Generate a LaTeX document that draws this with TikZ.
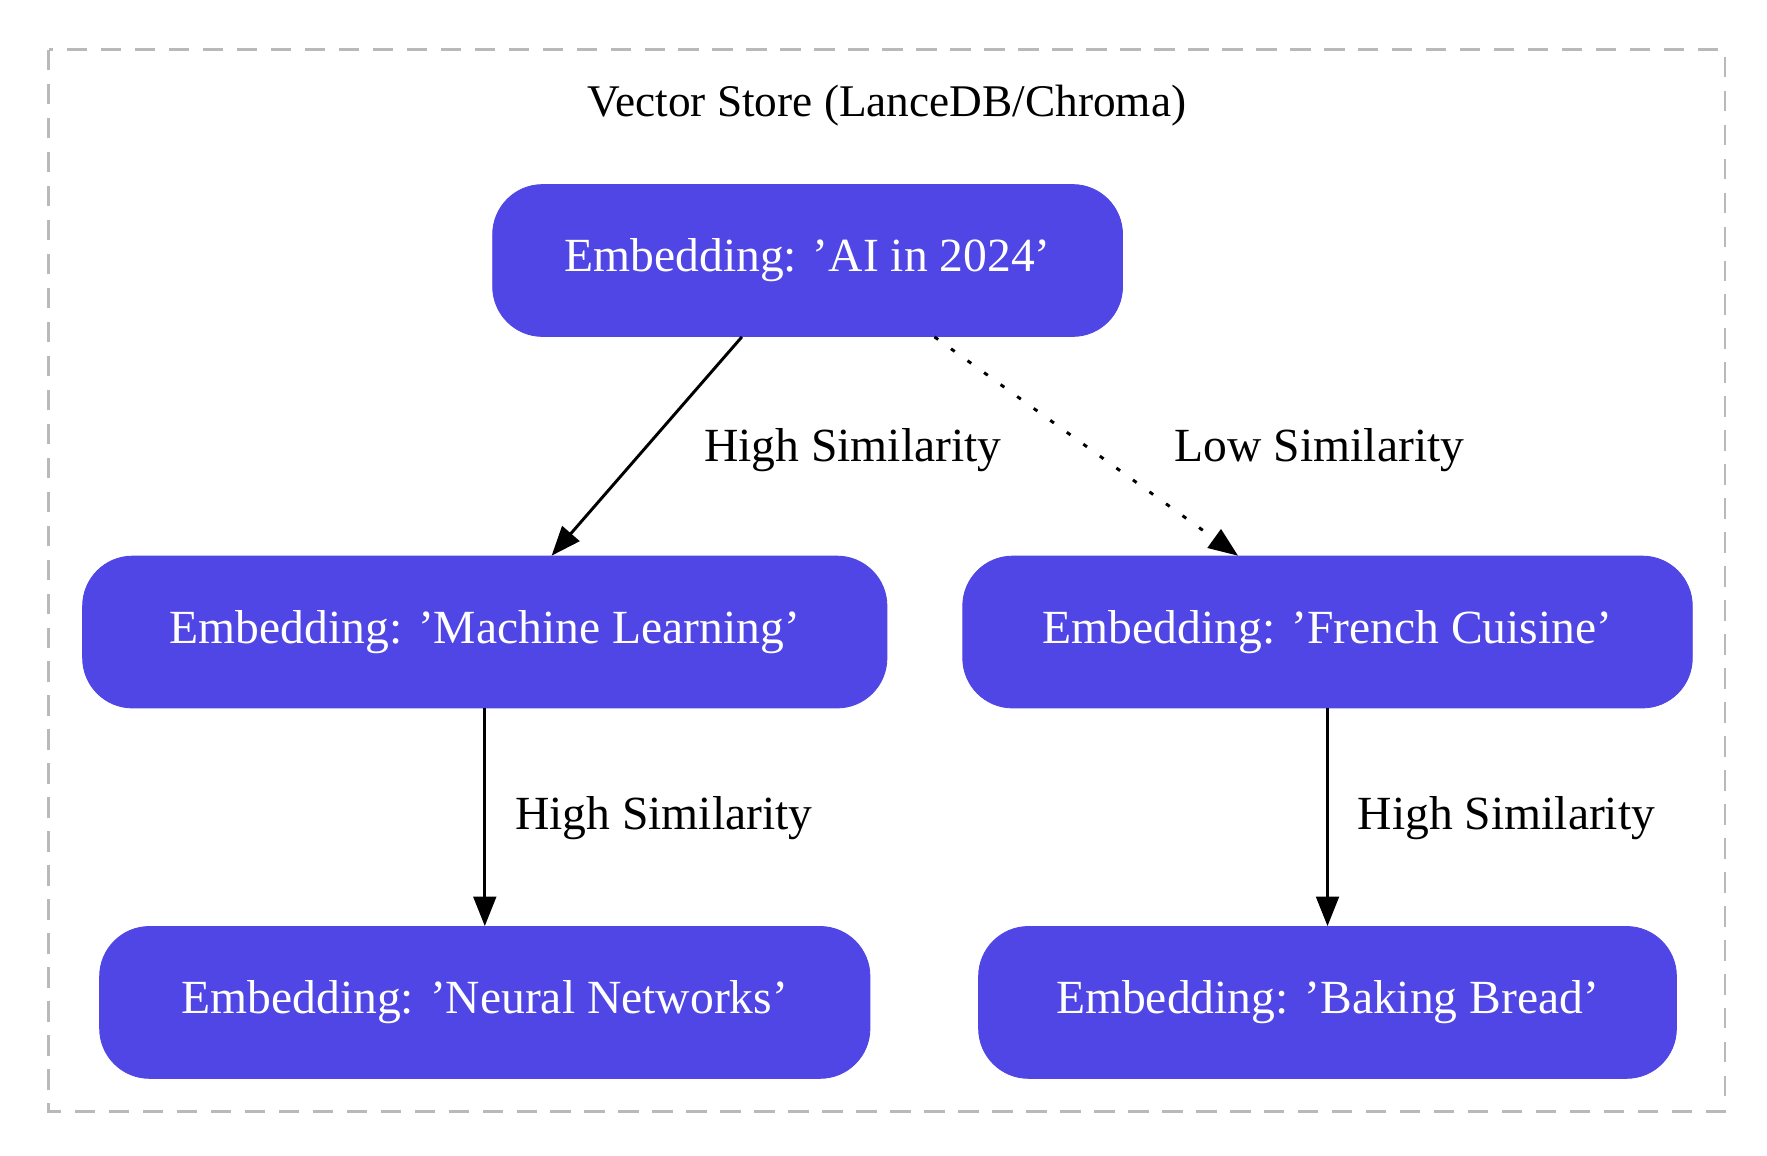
\documentclass[tikz,border=0pt]{standalone}
\usepackage{fontspec}
\setmainfont{Liberation Serif}
\usetikzlibrary{arrows.meta}
\definecolor{nodefill}{HTML}{5046E5}
\begin{document}
\begin{tikzpicture}[x=0.5pt,y=-0.5pt,
  box/.style={draw=nodefill,fill=nodefill,text=white,rounded corners=22pt,inner sep=0pt,minimum height=67pt,font=\fontsize{21}{25}\selectfont},
  edge/.style={line width=1.3pt,-{Triangle[length=13pt,width=10pt]}},
  lab/.style={font=\fontsize{21}{25}\selectfont,inner sep=0pt}]
\useasboundingbox (0,0) rectangle (1560,1020);
\draw[gray!55,line width=1.2pt,dash pattern=on 9pt off 6pt] (43,44) rectangle (1523,981);
\node[lab,font=\fontsize{20}{24}\selectfont] (title) at (783,93) {Vector Store (LanceDB/Chroma)};
\node[box,minimum width=278pt] (a) at (713,230) {Embedding: 'AI in 2024'};
\node[box,minimum width=355pt] (ml) at (428,558) {Embedding: 'Machine Learning'};
\node[box,minimum width=322pt] (fc) at (1172,558) {Embedding: 'French Cuisine'};
\node[box,minimum width=340pt] (nn) at (428,885) {Embedding: 'Neural Networks'};
\node[box,minimum width=308pt] (bb) at (1172,885) {Embedding: 'Baking Bread'};
\draw[edge] (a.south -| 655,0) -- (ml.north -| 487,0);
\node[lab] (l1) at (753,397) {High Similarity};
\draw[edge,dash pattern=on 2pt off 7pt] (a.south -| 825,0) -- (fc.north -| 1093,0);
\node[lab] (l2) at (1165,397) {Low Similarity};
\draw[edge] (ml) -- (nn);
\node[lab] (l3) at (586,722) {High Similarity};
\draw[edge] (fc) -- (bb);
\node[lab] (l4) at (1330,722) {High Similarity};
\end{tikzpicture}
\end{document}
